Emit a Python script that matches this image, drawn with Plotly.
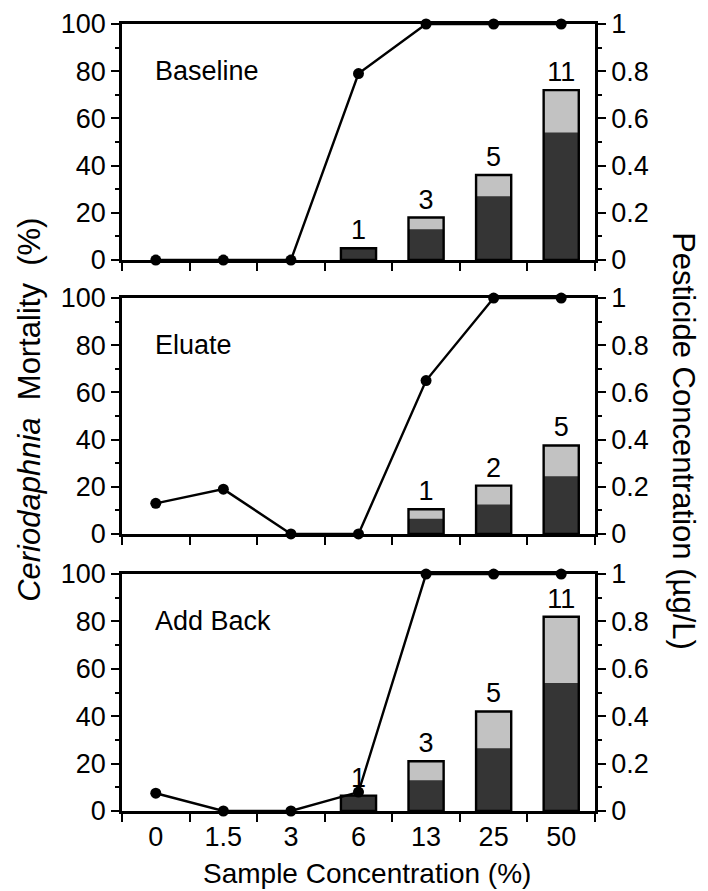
import plotly.graph_objects as go
from plotly.subplots import make_subplots

categories = ["0", "1.5", "3", "6", "13", "25", "50"]

baseline_dark = [None, None, None, 5, 13, 27, 54]
baseline_light = [None, None, None, 0, 5, 9, 18]
baseline_n = ["", "", "", "1", "3", "5", "11"]
baseline_pest = [0, 0, 0, 0.79, 1, 1, 1]

eluate_dark = [None, None, None, None, 6.5, 12.5, 24.5]
eluate_light = [None, None, None, None, 4, 8, 13]
eluate_n = ["", "", "", "", "1", "2", "5"]
eluate_pest = [0.13, 0.19, 0, 0, 0.65, 1, 1]

addback_dark = [None, None, None, 6.5, 13, 26.5, 54]
addback_light = [None, None, None, 0, 8, 15.5, 28]
addback_n = ["", "", "", "1", "3", "5", "11"]
addback_pest = [0.075, 0, 0, 0.08, 1, 1, 1]

panel_names = ["Baseline", "Eluate", "Add Back"]
panels = [
    (baseline_dark, baseline_light, baseline_n, baseline_pest),
    (eluate_dark, eluate_light, eluate_n, eluate_pest),
    (addback_dark, addback_light, addback_n, addback_pest),
]

FONT = "Arial, Liberation Sans, sans-serif"
DARK = "#353535"
LIGHT = "#c2c2c2"
BW = 0.52
TICKSIZE = 27

fig = make_subplots(rows=3, cols=1, specs=[[{"secondary_y": True}]] * 3)

for i, (dark, light, n, pest) in enumerate(panels):
    row = i + 1
    total = [None if d is None else d + (l or 0) for d, l in zip(dark, light)]
    fig.add_trace(go.Bar(x=categories, y=total, width=BW, marker=dict(color=LIGHT, line=dict(width=0)),
                         showlegend=False), row=row, col=1, secondary_y=False)
    fig.add_trace(go.Bar(x=categories, y=dark, width=BW, marker=dict(color=DARK, line=dict(width=0)),
                         showlegend=False), row=row, col=1, secondary_y=False)
    fig.add_trace(go.Bar(x=categories, y=total, width=BW,
                         marker=dict(color="rgba(0,0,0,0)", line=dict(color="black", width=2.4)),
                         text=n, textposition="outside", cliponaxis=False,
                         textfont=dict(family=FONT, size=27, color="black"),
                         showlegend=False), row=row, col=1, secondary_y=False)
    fig.add_trace(go.Scatter(x=categories, y=pest, mode="lines+markers",
                             line=dict(color="black", width=2.4),
                             marker=dict(color="black", size=11),
                             cliponaxis=False, showlegend=False),
                  row=row, col=1, secondary_y=True)

domains = [[0.7001, 1.0], [0.352, 0.6518], [0.0, 0.3011]]
for i in range(3):
    row = i + 1
    fig.update_xaxes(domain=[0, 1], range=[-0.5, 6.5], type="category",
                     categoryorder="array", categoryarray=categories, automargin=False,
                     showline=True, linecolor="black", linewidth=2.7, mirror=True,
                     ticks="outside", tickson="boundaries", ticklen=8, tickwidth=2, tickcolor="black",
                     showticklabels=(row == 3), showgrid=False, zeroline=False,
                     tickfont=dict(family=FONT, size=TICKSIZE, color="black"),
                     row=row, col=1)
    fig.update_yaxes(domain=domains[i], range=[0, 100], tickvals=[0, 20, 40, 60, 80, 100],
                     automargin=False,
                     showline=True, linecolor="black", linewidth=2.7,
                     ticks="outside", ticklen=8, tickwidth=2, tickcolor="black",
                     minor=dict(tickvals=[10, 30, 50, 70, 90], ticks="outside", ticklen=4,
                                tickwidth=1.5, tickcolor="black"),
                     showgrid=False, zeroline=False,
                     tickfont=dict(family=FONT, size=TICKSIZE, color="black"),
                     row=row, col=1, secondary_y=False)
    fig.update_yaxes(range=[0, 1], tickvals=[0, 0.2, 0.4, 0.6, 0.8, 1],
                     ticktext=["0", "0.2", "0.4", "0.6", "0.8", "1"], automargin=False,
                     showline=True, linecolor="black", linewidth=2.7,
                     ticks="outside", ticklen=8, tickwidth=2, tickcolor="black",
                     minor=dict(tickvals=[0.1, 0.3, 0.5, 0.7, 0.9], ticks="outside", ticklen=4,
                                tickwidth=1.5, tickcolor="black"),
                     showgrid=False, zeroline=False,
                     tickfont=dict(family=FONT, size=TICKSIZE, color="black"),
                     row=row, col=1, secondary_y=True)

annos = []
yrefs = ["y domain", "y3 domain", "y5 domain"]
xrefs = ["x domain", "x2 domain", "x3 domain"]
for i, name in enumerate(panel_names):
    annos.append(dict(text=name, xref=xrefs[i], yref=yrefs[i], x=0.065, y=0.80,
                      xanchor="left", yanchor="middle", showarrow=False,
                      font=dict(family=FONT, size=27, color="black")))

annos.append(dict(text="<i>Ceriodaphnia</i>  Mortality  (%)", xref="paper", yref="paper",
                  x=-0.197, y=0.5095, xanchor="center", yanchor="middle", textangle=-90,
                  showarrow=False, font=dict(family=FONT, size=31, color="black")))
annos.append(dict(text="Pesticide Concentration (µg/L)", xref="paper", yref="paper",
                  x=1.188, y=0.470, xanchor="center", yanchor="middle", textangle=90,
                  showarrow=False, font=dict(family=FONT, size=31, color="black")))
annos.append(dict(text="Sample Concentration (%)", xref="paper", yref="paper",
                  x=0.518, y=-0.0788, xanchor="center", yanchor="middle",
                  showarrow=False, font=dict(family=FONT, size=28, color="black")))

fig.update_layout(
    width=700, height=883,
    margin=dict(l=114, r=113, t=16, b=80),
    barmode="overlay",
    plot_bgcolor="white", paper_bgcolor="white",
    annotations=annos,
    font=dict(family=FONT, color="black"),
)

fig.write_html("out.html")
